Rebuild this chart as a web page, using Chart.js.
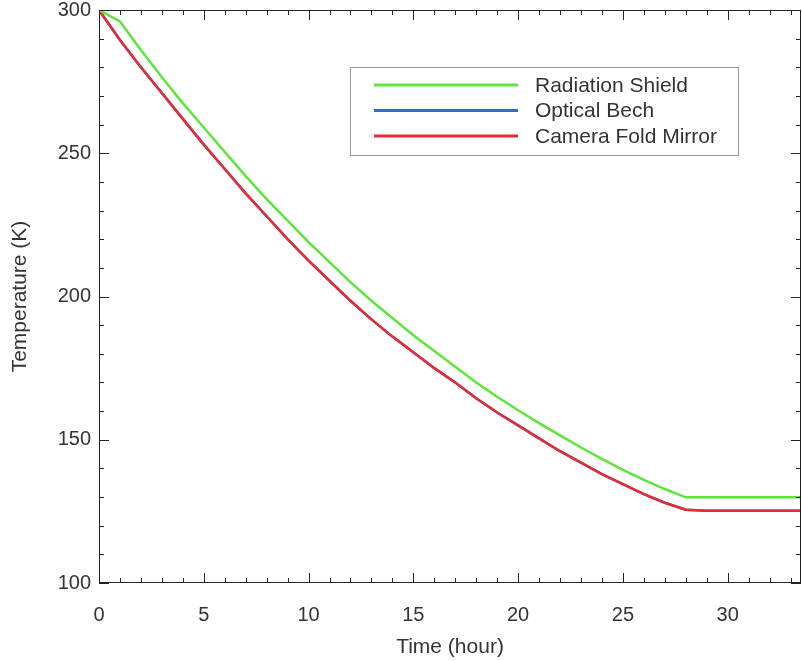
<!DOCTYPE html>
<html>
<head>
<meta charset="utf-8">
<script src="https://cdn.jsdelivr.net/npm/chart.js@4"></script>
<style>
  html, body { margin: 0; padding: 0; background: #fff; }
  #wrap { width: 802px; height: 661px; }
</style>
</head>
<body>
<div id="wrap"><canvas id="chart" width="802" height="661"></canvas></div>
<script>
const HOURS = [0, 1, 2, 3, 4, 5, 6, 7, 8, 9, 10, 11, 12, 13, 14, 15, 16, 17, 18, 19, 20,
  21, 22, 23, 24, 25, 26, 27, 28, 29, 30, 31, 32, 33, 34];
const SHIELD = [300, 296, 286, 276.5, 267.5, 259, 250.5, 242, 234, 226.5, 219, 212, 205, 198.5,
  192.5, 186.5, 181, 175.5, 170, 165, 160.3, 155.8, 151.5, 147.3, 143.3, 139.5, 136, 132.8,
  129.9, 129.9, 129.9, 129.9, 129.9, 129.9, 129.9];
const BENCH = [300, 289.5, 280, 271, 262, 253, 244.5, 236, 228, 220, 212.5, 205.5, 198.5, 192,
  186, 180.5, 175, 170, 164.5, 159.5, 155, 150.5, 146, 142, 138, 134.5, 131, 128,
  125.6, 125.2, 125.2, 125.2, 125.2, 125.2, 125.2];
const MIRROR = [300, 289.5, 280, 271, 262, 253, 244.5, 236, 228, 220, 212.5, 205.5, 198.5, 192,
  186, 180.5, 175, 170, 164.5, 159.5, 155, 150.5, 146, 142, 138, 134.5, 131, 128,
  125.6, 125.2, 125.2, 125.2, 125.2, 125.2, 125.2];
const SERIES_NAMES = ['Radiation Shield', 'Optical Bech', 'Camera Fold Mirror'];
const SERIES_COLORS = ['#5ee43a', '#2f6fc4', '#e82a32'];
const X_TICKS = [0, 5, 10, 15, 20, 25, 30];
const Y_TICKS = [100, 150, 200, 250, 300];

const FONT = 'Liberation Sans, Arial, Helvetica, sans-serif';
const TEXT = '#333';
const AXIS = '#222';

const toPoints = (ys) => HOURS.map((h, i) => ({ x: h, y: ys[i] }));

// IDL-style box with inward ticks on all four sides
const boxTicks = {
  id: 'boxTicks',
  afterDraw(chart) {
    const { ctx, chartArea: a, scales: { x, y } } = chart;
    ctx.save();
    ctx.strokeStyle = AXIS;
    ctx.lineWidth = 1;
    ctx.strokeRect(a.left + 0.5, a.top + 0.5, a.right - a.left - 1, a.bottom - a.top - 1);
    ctx.beginPath();
    for (let v = 0; v <= x.max; v += 1) {
      const px = Math.round(x.getPixelForValue(v)) + 0.5;
      const len = v % 5 === 0 ? 10 : 5;
      ctx.moveTo(px, a.bottom); ctx.lineTo(px, a.bottom - len);
      ctx.moveTo(px, a.top); ctx.lineTo(px, a.top + len);
    }
    for (let v = y.min; v <= y.max; v += 10) {
      const py = Math.round(y.getPixelForValue(v)) + 0.5;
      const len = v % 50 === 0 ? 10 : 5;
      ctx.moveTo(a.left, py); ctx.lineTo(a.left + len, py);
      ctx.moveTo(a.right, py); ctx.lineTo(a.right - len, py);
    }
    ctx.stroke();
    ctx.restore();
  },
};

const boxLegend = {
  id: 'boxLegend',
  afterDraw(chart) {
    const { ctx } = chart;
    ctx.save();
    ctx.strokeStyle = '#999';
    ctx.lineWidth = 1;
    ctx.strokeRect(350.5, 67.5, 388, 88);
    ctx.font = '21px ' + FONT;
    ctx.textBaseline = 'middle';
    ctx.fillStyle = TEXT;
    chart.data.datasets.forEach((ds, i) => {
      const yy = 85 + i * 25.5;
      ctx.strokeStyle = ds.borderColor;
      ctx.lineWidth = 3;
      ctx.beginPath();
      ctx.moveTo(374, yy); ctx.lineTo(518, yy);
      ctx.stroke();
      ctx.fillText(ds.label, 535, yy + 1);
    });
    ctx.restore();
  },
};

new Chart(document.getElementById('chart'), {
  type: 'line',
  data: {
    datasets: [
      { label: SERIES_NAMES[0], data: toPoints(SHIELD), borderColor: SERIES_COLORS[0], order: 0 },
      { label: SERIES_NAMES[1], data: toPoints(BENCH), borderColor: SERIES_COLORS[1], order: 1 },
      { label: SERIES_NAMES[2], data: toPoints(MIRROR), borderColor: SERIES_COLORS[2], order: 0 },
    ],
  },
  options: {
    responsive: false,
    animation: false,
    layout: { padding: { top: 10, right: 1, bottom: 0, left: 0 } },
    elements: {
      point: { radius: 0 },
      line: { borderWidth: 2.5, tension: 0, fill: false },
    },
    plugins: {
      legend: { display: false },
      tooltip: { enabled: false },
    },
    scales: {
      x: {
        type: 'linear',
        min: 0,
        max: 33.5,
        afterFit: (s) => { s.height = 78; s.paddingLeft = 0; s.paddingRight = 0; },
        afterBuildTicks: (s) => { s.ticks = X_TICKS.map((v) => ({ value: v })); },
        grid: { display: false, drawTicks: false },
        border: { display: false },
        ticks: { padding: 20, color: TEXT, font: { family: FONT, size: 20 } },
        title: {
          display: true,
          text: 'Time (hour)',
          color: TEXT,
          font: { family: FONT, size: 21 },
          padding: { top: 0, bottom: 1 },
        },
      },
      y: {
        min: 100,
        max: 300,
        afterFit: (s) => { s.width = 99; s.paddingTop = 0; s.paddingBottom = 0; },
        afterBuildTicks: (s) => { s.ticks = Y_TICKS.map((v) => ({ value: v })); },
        grid: { display: false, drawTicks: false },
        border: { display: false },
        ticks: { padding: 8, color: TEXT, font: { family: FONT, size: 20 } },
        title: {
          display: true,
          text: 'Temperature (K)',
          color: TEXT,
          font: { family: FONT, size: 21 },
          padding: { top: 8, bottom: 0 },
        },
      },
    },
  },
  plugins: [boxTicks, boxLegend],
});
</script>
</body>
</html>
